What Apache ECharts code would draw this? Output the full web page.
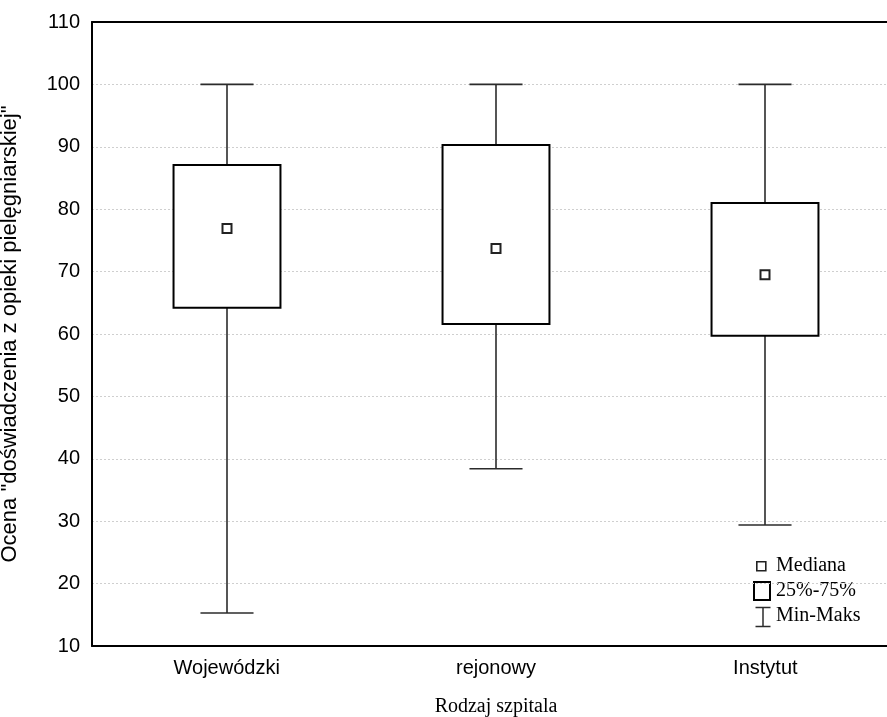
<!DOCTYPE html>
<html>
<head>
<meta charset="utf-8">
<script src="https://cdn.jsdelivr.net/npm/echarts@6/dist/echarts.min.js"></script>
<style>
  html, body { margin: 0; padding: 0; background: #fff; }
  #chart { width: 887px; height: 717px; }
</style>
</head>
<body>
<div id="chart"></div>
<script>
// Hospital types and the rating summary for each: min, Q1, median, Q3, max
const categories = ['Wojewódzki', 'rejonowy', 'Instytut'];
const minValues = [15.3, 38.4, 29.4];
const q1Values = [64.2, 61.6, 59.7];
const medianValues = [76.9, 73.7, 69.5];
const q3Values = [87.1, 90.3, 81.0];
const maxValues = [100, 100, 100];
const yTicks = { min: 10, max: 110, step: 10 };

const rows = categories.map((c, i) => [i, minValues[i], q1Values[i], medianValues[i], q3Values[i], maxValues[i]]);

const BOX_FRAC = 0.397;   // box width as share of a category band
const CAP_FRAC = 0.197;   // whisker cap width as share of a category band
const MED_SIZE = 9;       // median marker side, px

function renderBox(params, api) {
  const x = api.value(0);
  const band = api.size([1, 0])[0];
  const pMin = api.coord([x, api.value(1)]);
  const pQ1 = api.coord([x, api.value(2)]);
  const pMed = api.coord([x, api.value(3)]);
  const pQ3 = api.coord([x, api.value(4)]);
  const pMax = api.coord([x, api.value(5)]);
  const cx = Math.round(pMed[0]);
  const bw = band * BOX_FRAC;
  const cw = band * CAP_FRAC;
  const whisker = { stroke: '#2b2b2b', lineWidth: 1.6 };
  return {
    type: 'group',
    children: [
      { type: 'line', shape: { x1: cx, y1: pMax[1], x2: cx, y2: pQ3[1] }, style: whisker },
      { type: 'line', shape: { x1: cx - cw / 2, y1: pMax[1], x2: cx + cw / 2, y2: pMax[1] }, style: whisker },
      { type: 'line', shape: { x1: cx, y1: pQ1[1], x2: cx, y2: pMin[1] }, style: whisker },
      { type: 'line', shape: { x1: cx - cw / 2, y1: pMin[1], x2: cx + cw / 2, y2: pMin[1] }, style: whisker },
      { type: 'rect', shape: { x: cx - bw / 2, y: pQ3[1], width: bw, height: pQ1[1] - pQ3[1] },
        style: { fill: '#fff', stroke: '#000', lineWidth: 2 } },
      { type: 'rect', shape: { x: cx - MED_SIZE / 2, y: pMed[1] - MED_SIZE / 2, width: MED_SIZE, height: MED_SIZE },
        style: { fill: '#fff', stroke: '#222', lineWidth: 2 } }
    ]
  };
}

const chart = echarts.init(document.getElementById('chart'), null, { renderer: 'canvas' });

const sans = 'Liberation Sans, Arial, sans-serif';
const serif = 'Liberation Serif, Times New Roman, serif';

chart.setOption({
  animation: false,
  backgroundColor: '#fff',
  // plot frame runs past the right edge of the canvas
  grid: { left: 92, top: 22, width: 808, height: 624, containLabel: false, outerBoundsMode: 'none' },
  xAxis: [
    {
      type: 'category',
      data: categories,
      boundaryGap: true,
      axisLine: { lineStyle: { color: '#000', width: 2 } },
      axisTick: { inside: true, alignWithLabel: true, length: 5, lineStyle: { color: '#000', width: 1 } },
      axisLabel: { color: '#000', fontFamily: sans, fontSize: 20, margin: 12 },
      splitLine: { show: false },
      name: 'Rodzaj szpitala',
      nameLocation: 'middle',
      nameGap: 51,
      nameTextStyle: { color: '#000', fontFamily: serif, fontSize: 20 }
    },
    {
      type: 'category',
      data: categories,
      position: 'top',
      boundaryGap: true,
      axisLine: { lineStyle: { color: '#000', width: 2 } },
      axisTick: { inside: true, alignWithLabel: true, length: 5, lineStyle: { color: '#000', width: 1 } },
      axisLabel: { show: false },
      splitLine: { show: false }
    }
  ],
  yAxis: {
    type: 'value',
    min: yTicks.min,
    max: yTicks.max,
    interval: yTicks.step,
    axisLine: { show: true, lineStyle: { color: '#000', width: 2 } },
    axisTick: { show: false },
    axisLabel: { color: '#000', fontFamily: sans, fontSize: 20, margin: 12 },
    splitLine: { show: true, lineStyle: { color: '#cfcfcf', type: [2, 2], width: 1 } },
    name: 'Ocena "doświadczenia z opieki pielęgniarskiej"',
    nameLocation: 'middle',
    nameGap: 71,
    nameTextStyle: { color: '#000', fontFamily: sans, fontSize: 22 }
  },
  series: [{
    type: 'custom',
    xAxisIndex: 0,
    renderItem: renderBox,
    encode: { x: 0, y: [1, 2, 3, 4, 5] },
    data: rows,
    z: 5
  }],
  graphic: [
    { type: 'rect', left: 756, top: 561, shape: { width: 9, height: 9 },
      style: { fill: '#fff', stroke: '#222', lineWidth: 1.6 } },
    { type: 'text', x: 776, y: 566, style: { text: 'Mediana', font: '20px ' + serif, fill: '#000', verticalAlign: 'middle' } },
    { type: 'rect', left: 753, top: 581, shape: { width: 16, height: 18 },
      style: { fill: '#fff', stroke: '#000', lineWidth: 2 } },
    { type: 'text', x: 776, y: 591, style: { text: '25%-75%', font: '20px ' + serif, fill: '#000', verticalAlign: 'middle' } },
    { type: 'group', left: 753, top: 605, children: [
      { type: 'line', shape: { x1: 0, y1: 0, x2: 15, y2: 0 }, style: { stroke: '#2b2b2b', lineWidth: 1.5 } },
      { type: 'line', shape: { x1: 7.5, y1: 0, x2: 7.5, y2: 19 }, style: { stroke: '#2b2b2b', lineWidth: 1.5 } },
      { type: 'line', shape: { x1: 0, y1: 19, x2: 15, y2: 19 }, style: { stroke: '#2b2b2b', lineWidth: 1.5 } }
    ] },
    { type: 'text', x: 776, y: 616, style: { text: 'Min-Maks', font: '20px ' + serif, fill: '#000', verticalAlign: 'middle' } }
  ]
});
</script>
</body>
</html>
